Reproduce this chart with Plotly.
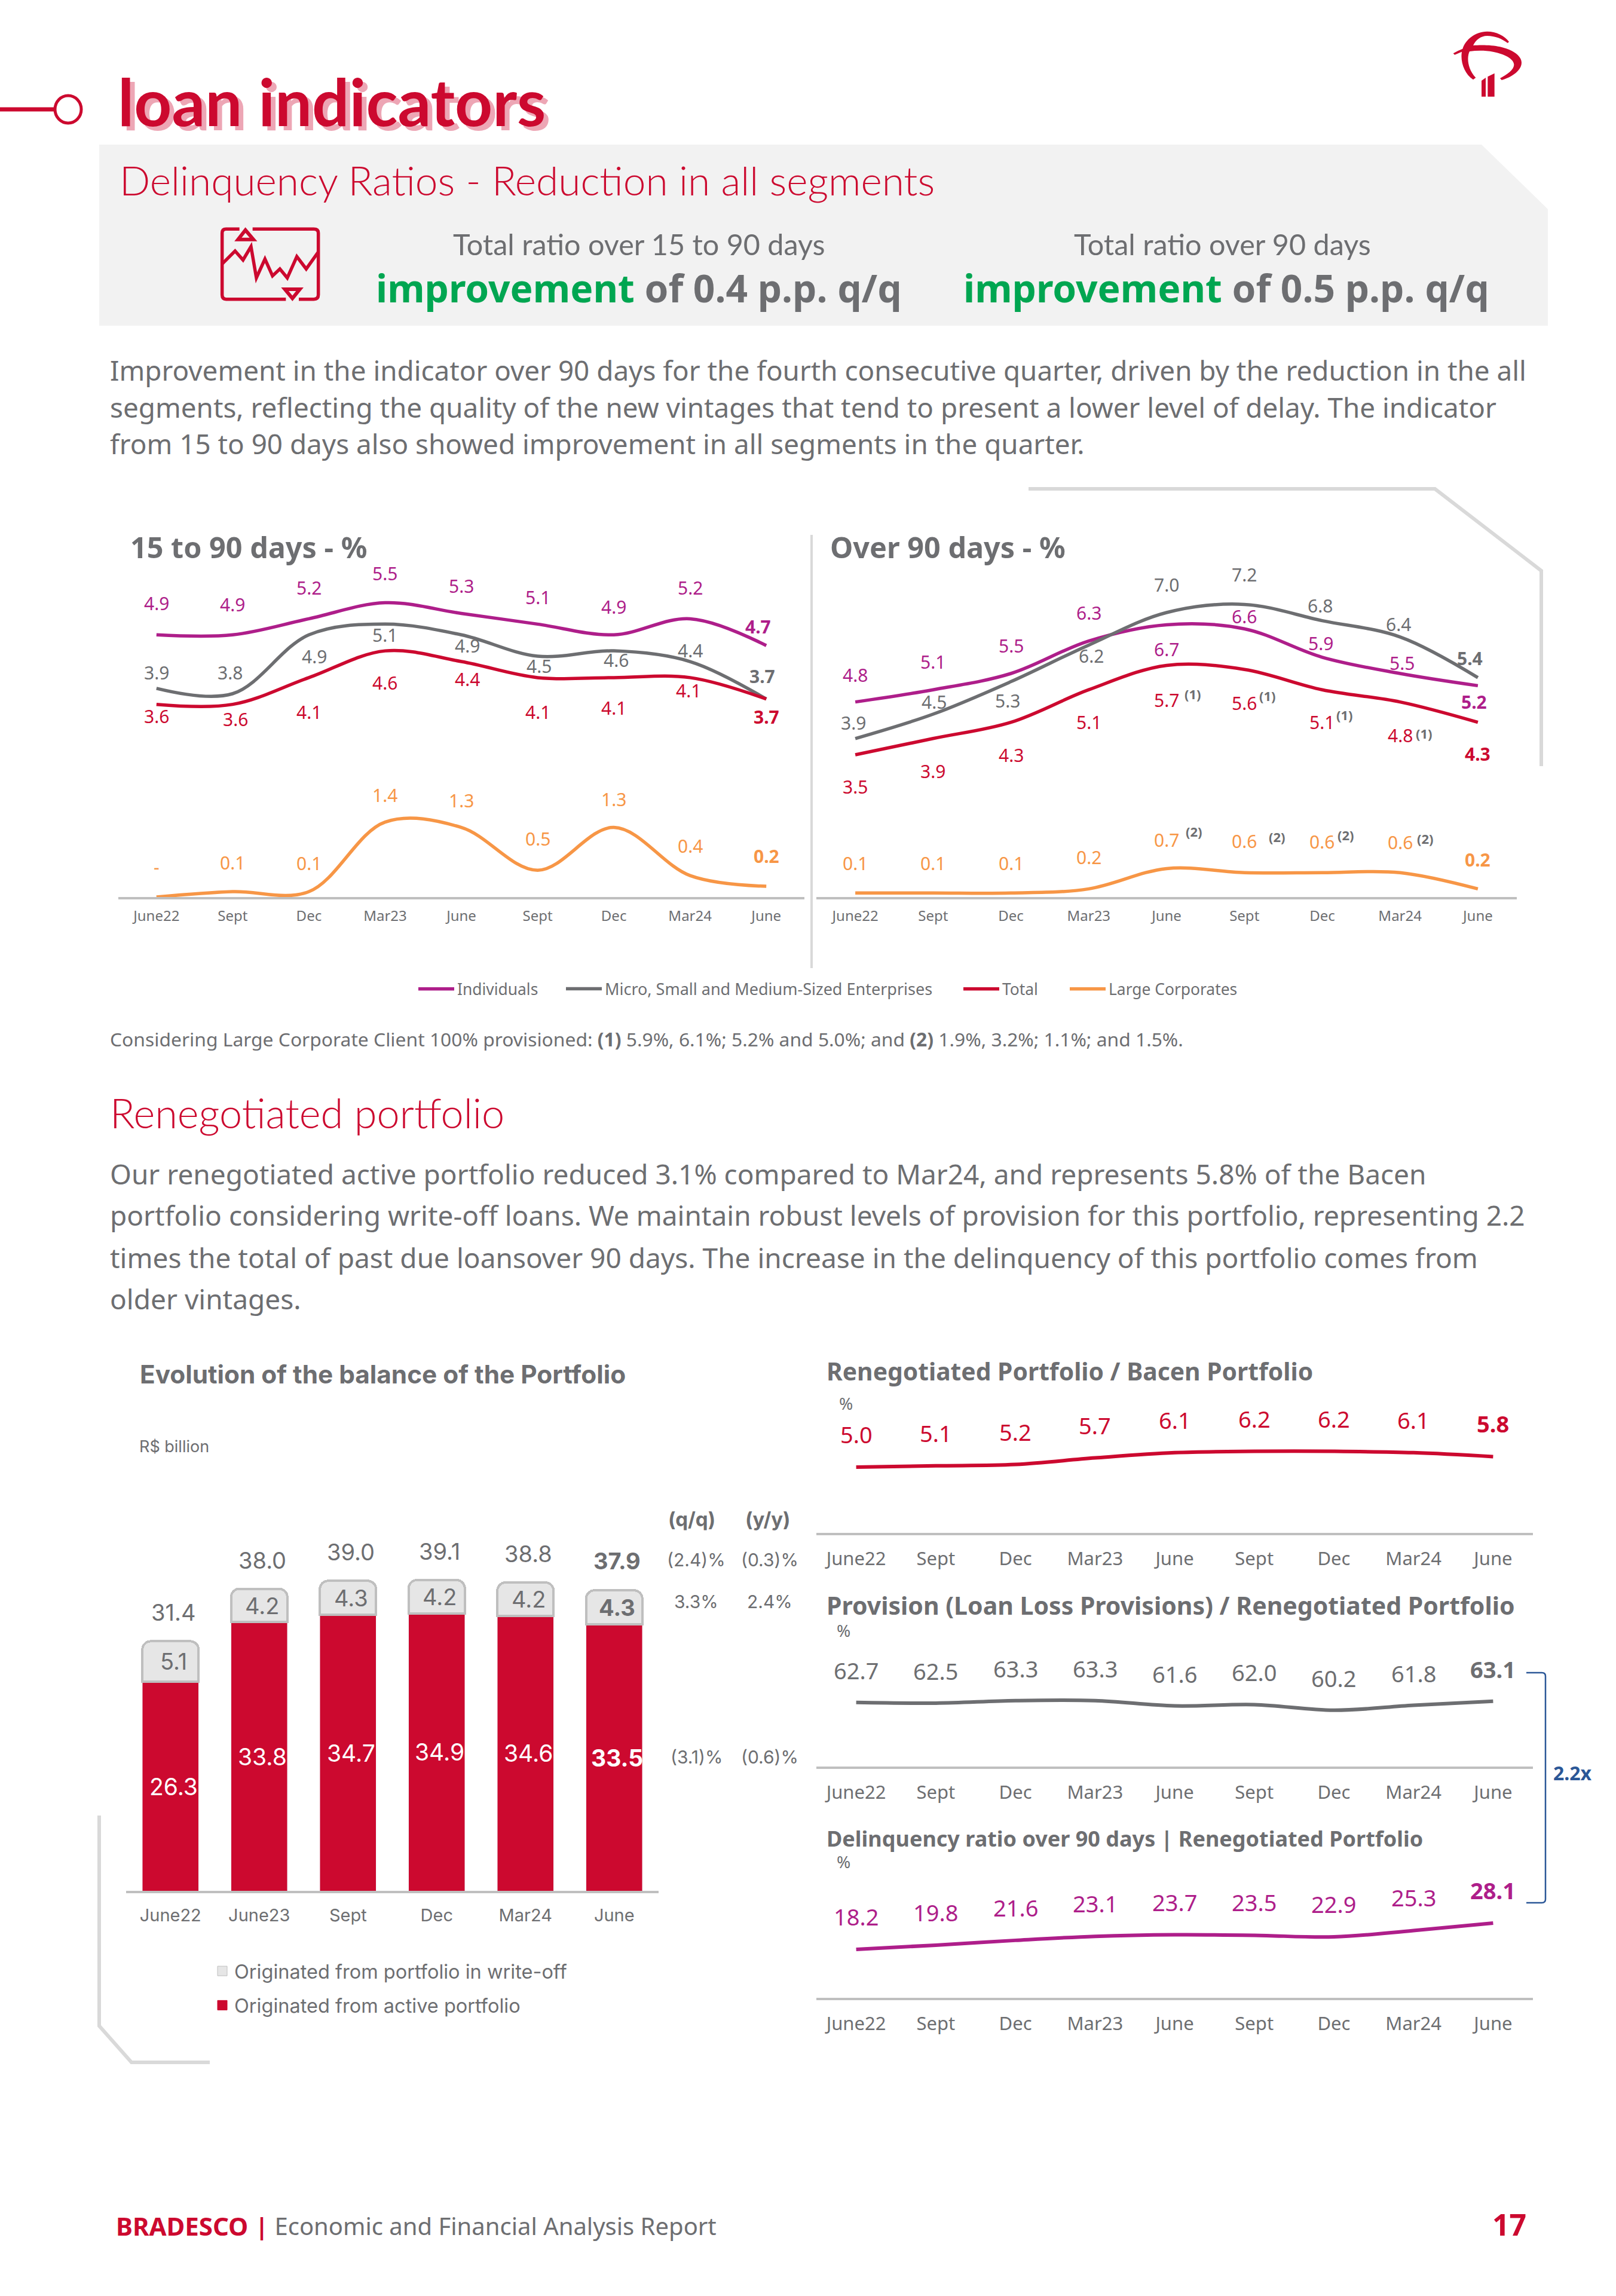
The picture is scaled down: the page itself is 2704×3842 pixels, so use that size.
import re
import plotly.graph_objects as go

W, H = 2704, 3842
RED = "#CC092F"; MAG = "#AE1E8A"; GREY = "#6D6E71"; ORANGE = "#F79646"; GREEN = "#00A651"
LINEGREY = "#BFBFBF"; DECOR = "#D9D9D9"; BLUE = "#2B5797"
FONT = "Noto Sans"; WIDE = "Inter"

# ---------- data ----------
quarters = ["June22", "Sept", "Dec", "Mar23", "June", "Sept", "Dec", "Mar24", "June"]
d15_individuals = [4.9, 4.9, 5.2, 5.5, 5.3, 5.1, 4.9, 5.2, 4.7]
d15_micro = [3.9, 3.8, 4.9, 5.1, 4.9, 4.5, 4.6, 4.4, 3.7]
d15_total = [3.6, 3.6, 4.1, 4.6, 4.4, 4.1, 4.1, 4.1, 3.7]
d15_large = [0.0, 0.1, 0.1, 1.4, 1.3, 0.5, 1.3, 0.4, 0.2]
d90_individuals = [4.8, 5.1, 5.5, 6.3, 6.7, 6.6, 5.9, 5.5, 5.2]
d90_micro = [3.9, 4.5, 5.3, 6.2, 7.0, 7.2, 6.8, 6.4, 5.4]
d90_total = [3.5, 3.9, 4.3, 5.1, 5.7, 5.6, 5.1, 4.8, 4.3]
d90_large = [0.1, 0.1, 0.1, 0.2, 0.7, 0.6, 0.6, 0.6, 0.2]
bar_periods = ["June22", "June23", "Sept", "Dec", "Mar24", "June"]
bar_active = [26.3, 33.8, 34.7, 34.9, 34.6, 33.5]
bar_writeoff = [5.1, 4.2, 4.3, 4.2, 4.2, 4.3]
bar_totals = [31.4, 38.0, 39.0, 39.1, 38.8, 37.9]
reneg_bacen = [5.0, 5.1, 5.2, 5.7, 6.1, 6.2, 6.2, 6.1, 5.8]
reneg_provision = [62.7, 62.5, 63.3, 63.3, 61.6, 62.0, 60.2, 61.8, 63.1]
reneg_delinq = [18.2, 19.8, 21.6, 23.1, 23.7, 23.5, 22.9, 25.3, 28.1]
growth_rows = [("(2.4)%", "(0.3)%", 2610), ("3.3%", "2.4%", 2680), ("(3.1)%", "(0.6)%", 2940)]

# ---------- label offsets (px: right, up) ----------
off15_ind = [(0,53),(0,51),(0,52),(0,49),(0,46),(0,45),(0,47),(0,52),(-14,32)]
off15_mic = [(0,26),(-4,35),(9,-36),(0,-18),(10,-18),(2,-16),(4,-15),(0,19),(-7,38)]
off15_tot = [(0,-20),(5,-25),(0,-58),(0,-53),(10,-29),(0,-58),(0,-51),(-3,-22),(0,-30)]
off15_lrg = [(0,50),(0,49),(0,48),(0,45),(0,45),(0,53),(0,47),(0,50),(0,51)]
off90_ind = [(0,45),(0,47),(0,47),(0,47),(0,-41),(0,21),(-2,23),(3,18),(-6,-27)]
off90_mic = [(-3,26),(2,21),(-6,-32),(4,-18),(0,47),(0,50),(-3,25),(-3,21),(-13,32)]
off90_tot = [(0,-53),(0,-55),(0,-55),(0,-54),(0,-58),(0,-56),(0,-54),(0,-56),(0,-53)]
off90_lrg = [(0,50),(0,50),(0,50),(0,53),(0,48),(0,53),(0,52),(0,51),(0,49)]

fig = go.Figure()
annots, shapes = [], []
idx = list(range(len(quarters)))


def fx(px): return px / W
def fy(py): return 1 - py / H


def page_text(x, y, text, size, color=GREY, anchor="left", family=FONT, weight=None, vanchor="middle", shadow=None):
    f = dict(size=size, color=color, family=family)
    if weight:
        f["weight"] = weight
    if shadow:
        f["shadow"] = shadow
    annots.append(dict(xref="paper", yref="paper", x=fx(x), y=fy(y), text=text, showarrow=False,
                       xanchor=anchor, yanchor=vanchor, font=f, align="left"))


def path(s, ox=0, oy=0, k=1.0):
    out, i = [], 0
    for tok in re.findall(r"[MLCQZ]|-?\d+\.?\d*", s):
        if tok in "MLCQZ":
            out.append(tok)
        else:
            if i % 2 == 0:
                out.append(f"{fx(ox + float(tok) * k):.6f}")
            else:
                out.append(f"{fy(oy + float(tok) * k):.6f}")
            i += 1
    res = ""
    j = 0
    while j < len(out):
        t = out[j]
        if t in "MLCQZ":
            res += t
            j += 1
        else:
            res += out[j] + "," + out[j + 1] + " "
            j += 2
    return res


def shape(s, fill=None, line=None, width=0, layer="above", **kw):
    d = dict(type="path", xref="paper", yref="paper", path=path(s, **kw), layer=layer,
             line=dict(color=line or "rgba(0,0,0,0)", width=width))
    if fill:
        d["fillcolor"] = fill
    shapes.append(d)


def axes(n, x0, x1, y0, y1, xr, yr, tickvals, ticktext, size, standoff, family=FONT, lw=4):
    sfx = "" if n == 1 else str(n)
    fig.layout["xaxis" + sfx] = dict(domain=[fx(x0), fx(x1)], range=xr, anchor="y" + sfx, tickmode="array",
                                     tickvals=tickvals, ticktext=ticktext, showgrid=False, zeroline=False,
                                     showline=True, linecolor=LINEGREY, linewidth=lw, ticks="",
                                     tickfont=dict(size=size, color=GREY, family=family),
                                     ticklabelstandoff=standoff, fixedrange=True)
    fig.layout["yaxis" + sfx] = dict(domain=[fy(y1), fy(y0)], range=yr, anchor="x" + sfx, visible=False,
                                     fixedrange=True)
    return ("x" + sfx, "y" + sfx)


def line(x, y, xa, ya, color, name=None, legend="legend", width=5.5):
    fig.add_trace(go.Scatter(x=x, y=y, mode="lines", xaxis=xa, yaxis=ya, name=name, showlegend=bool(name),
                             line=dict(color=color, width=width, shape="spline", smoothing=1.0),
                             cliponaxis=False, hoverinfo="skip", legend=legend))


def labels(values, xa, ya, color, size, offs=None, up=0, xs=None, texts=None, last_bold=True, family=FONT):
    xs = xs if xs is not None else list(range(len(values)))
    for i, v in enumerate(values):
        dx, dy = offs[i] if offs else (0, up)
        t = texts[i] if texts else f"{v:.1f}"
        if last_bold and i == len(values) - 1:
            t = f"<b>{t}</b>"
        annots.append(dict(xref=xa, yref=ya, x=xs[i], y=v, text=t, showarrow=False, xshift=dx, yshift=dy,
                           xanchor="center", yanchor="middle", font=dict(size=size, color=color, family=family)))


# ---------- 15 to 90 days ----------
xa, ya = axes(1, 198, 1346, 919, 1501, [-0.5, 8.5], [0, 6.5], idx, quarters, 24, 7)
line(idx, d15_individuals, xa, ya, MAG, "Individuals", "legend")
line(idx, d15_micro, xa, ya, GREY, "Micro, Small and Medium-Sized Enterprises", "legend3")
line(idx, d15_total, xa, ya, RED, "Total", "legend4")
line(idx, d15_large, xa, ya, ORANGE, "Large Corporates", "legend5")
labels(d15_individuals, xa, ya, MAG, 30, off15_ind)
labels(d15_micro, xa, ya, GREY, 30, off15_mic)
labels(d15_total, xa, ya, RED, 30, off15_tot)
labels(d15_large, xa, ya, ORANGE, 30, off15_lrg, texts=[f"{v:.1f}" if v else "-" for v in d15_large])

# ---------- over 90 days ----------
xa, ya = axes(2, 1366, 2538, 957, 1501, [-0.5, 8.5], [0, 8], idx, quarters, 24, 7)
line(idx, d90_individuals, xa, ya, MAG)
line(idx, d90_micro, xa, ya, GREY)
line(idx, d90_total, xa, ya, RED)
line(idx, d90_large, xa, ya, ORANGE)
labels(d90_individuals, xa, ya, MAG, 30, off90_ind)
labels(d90_micro, xa, ya, GREY, 30, off90_mic)
labels(d90_total, xa, ya, RED, 30, off90_tot)
labels(d90_large, xa, ya, ORANGE, 30, off90_lrg)
for x, y in [(1996, 1161), (2121, 1164), (2250, 1196), (2383, 1227)]:
    page_text(x, y, "<b>(1)</b>", 22, GREY, "center")
for x, y in [(1998, 1391), (2137, 1400), (2252, 1397), (2385, 1403)]:
    page_text(x, y, "<b>(2)</b>", 22, GREY, "center")

# ---------- balance bars ----------
bx = list(range(len(bar_periods)))
xa, ya = axes(3, 211, 1102, 2366, 3164, [-0.5, 5.5], [0, 60], bx, bar_periods, 29, 12, family=WIDE)
fig.add_trace(go.Bar(x=bx, y=bar_active, xaxis=xa, yaxis=ya, marker=dict(color=RED), width=0.633,
                     showlegend=False, hoverinfo="skip"))
fig.add_trace(go.Bar(x=bx, y=bar_writeoff, xaxis=xa, yaxis=ya, width=0.633,
                     marker=dict(color="#E6E6E6", line=dict(color=LINEGREY, width=4)),
                     showlegend=False, hoverinfo="skip"))
# legend keys for the bars, sized like the reference's square swatches
for nm, col, edge, grp, rank in [("Originated from portfolio in write-off", "#E6E6E6", LINEGREY, "b", 1),
                                 ("Originated from active portfolio", RED, RED, "a", 2)]:
    fig.add_trace(go.Scatter(x=[None], y=[None], xaxis=xa, yaxis=ya, mode="markers", name=nm, legend="legend2",
                             legendgroup=grp, legendrank=rank, hoverinfo="skip",
                             marker=dict(symbol="square", size=20, color=col, line=dict(color=edge, width=1))))
labels(bar_totals, xa, ya, GREY, 38, offs=[(5, 48)] * 6, family=WIDE)
mids_w = [a + w / 2 for a, w in zip(bar_active, bar_writeoff)]
for i, v in enumerate(bar_writeoff):
    t = f"{v:.1f}"
    t = f"<b>{t}</b>" if i == 5 else t
    annots.append(dict(xref=xa, yref=ya, x=i, y=mids_w[i], text=t, showarrow=False, xshift=5,
                       font=dict(size=38, color=GREY, family=WIDE)))
for i, v in enumerate(bar_active):
    t = f"{v:.1f}"
    t = f"<b>{t}</b>" if i == 5 else t
    annots.append(dict(xref=xa, yref=ya, x=i, y=v / 2, text=t, showarrow=False, xshift=5,
                       font=dict(size=39, color="white", family=WIDE)))
page_text(1157, 2542, "<b>(q/q)</b>", 33, GREY, "center", WIDE)
page_text(1285, 2542, "<b>(y/y)</b>", 33, GREY, "center", WIDE)
for q, y_, py in growth_rows:
    page_text(1165, py, q, 30, GREY, "center", WIDE)
    page_text(1288, py, y_, 30, GREY, "center", WIDE)

# ---------- renegotiated small panels ----------
xa, ya = axes(4, 1366, 2565, 2389, 2565, [-0.5, 8.5], [0, 8], idx, quarters, 31, 13, lw=4)
line(idx, reneg_bacen, xa, ya, RED, width=6)
labels(reneg_bacen, xa, ya, RED, 38, up=55)
xa, ya = axes(5, 1366, 2565, 2780, 2956, [-0.5, 8.5], [42, 76], idx, quarters, 31, 13, lw=4)
line(idx, reneg_provision, xa, ya, GREY, width=6)
labels(reneg_provision, xa, ya, GREY, 38, up=54)
xa, ya = axes(6, 1366, 2565, 3165, 3343, [-0.5, 8.5], [0, 40], idx, quarters, 31, 13, lw=4)
line(idx, reneg_delinq, xa, ya, MAG, width=6)
labels(reneg_delinq, xa, ya, MAG, 38, up=55)

# ---------- page furniture ----------
shape("M166,242 L2479,242 L2590,350 L2590,545 L166,545 Z", fill="#F2F2F2", layer="below")
shape("M1721,818 L2401,818 L2579,955 L2579,1282", line=DECOR, width=6, layer="below")
shape("M166,3038 L166,3390 L220,3451 L351,3451", line=DECOR, width=6, layer="below")
shape("M1358,895 L1358,1620", line=DECOR, width=4, layer="below")
shape("M0,183 L92,183", line=RED, width=7)
shapes.append(dict(type="circle", xref="paper", yref="paper", x0=fx(92), x1=fx(136), y0=fy(206), y1=fy(160),
                   line=dict(color=RED, width=5)))
shape("M2554,2799 L2580,2799 Q2586,2799 2586,2805 L2586,3178 Q2586,3184 2580,3184 L2554,3184", line=BLUE, width=2.5)
# logo
LOGO = dict(ox=2410, oy=30, k=1 / 3)
shape("M65,178 Q85,165 112,155 C125,110 175,68 235,68 C280,68 325,90 345,120 L338,126 C310,105 275,90 235,90 "
      "C205,90 178,110 165,138 C200,135 260,135 300,145 C365,160 408,190 408,225 C408,265 355,300 308,312 "
      "L300,303 C335,285 370,260 370,235 C370,205 320,180 265,170 C225,163 185,163 147,168 C133,195 135,255 178,300 "
      "L165,310 C120,280 100,220 108,170 C95,175 85,180 72,185 Z", fill=RED, **LOGO)
shape("M207,315 L228,300 L228,395 L207,395 Z", fill=RED, **LOGO)
shape("M238,295 L272,278 L272,395 L238,395 Z", fill=RED, **LOGO)
# icon
ICON = dict(ox=350, oy=360, k=1 / 3)
shape("M152,70 L85,70 Q65,70 65,90 L65,400 Q65,422 85,422 L385,422", line=RED, width=5.5, **ICON)
shape("M450,422 L525,422 Q548,422 548,400 L548,90 Q548,70 525,70 L218,70", line=RED, width=5.5, **ICON)
shape("M182,75 L222,122 L145,122 Z", line=RED, width=6, **ICON)
shape("M380,372 L455,372 L418,418 Z", line=RED, width=6, **ICON)
shape("M65,245 L130,180 L170,225 L210,158 L237,315 L280,220 L318,305 L355,270 L392,315 L440,208 L487,270 L548,185",
      line=RED, width=5.5, **ICON)

page_text(195, 168, "<b>loan indicators</b>", 110, RED, family="Lato", shadow="8px 7px 0px #EDA6B5")
page_text(198, 301, "Delinquency Ratios - Reduction in all segments", 67.6, RED, family="Lato", weight=300)
page_text(1069, 408, "Total ratio over 15 to 90 days", 48.5, GREY, "center", family="Lato")
page_text(2045, 408, "Total ratio over 90 days", 48.5, GREY, "center", family="Lato")
page_text(627, 481, f"<b><span style='color:{GREEN}'>improvement</span> of 0.4 p.p. q/q</b>", 64, GREY)
page_text(1610, 481, f"<b><span style='color:{GREEN}'>improvement</span> of 0.5 p.p. q/q</b>", 64, GREY)
for y, t in zip([619, 681, 742], [
    "Improvement in the indicator over 90 days for the fourth consecutive quarter, driven by the reduction in the all",
    "segments, reflecting the quality of the new vintages that tend to present a lower level of delay. The indicator",
    "from 15 to 90 days also showed improvement in all segments in the quarter.",
]):
    page_text(182, y, t, 45.8)
page_text(216, 915, "<b>15 to 90 days - %</b>", 48.5)
page_text(1387, 915, "<b>Over 90 days - %</b>", 48.5)
page_text(182, 1738, "Considering Large Corporate Client 100% provisioned: <b>(1)</b> 5.9%, 6.1%; 5.2% and 5.0%; "
                     "and <b>(2)</b> 1.9%, 3.2%; 1.1%; and 1.5%.", 31.8)
page_text(182, 1861, "Renegotiated portfolio", 68.5, RED, family="Lato", weight=300)
for y, t in zip([1964, 2033, 2104, 2173], [
    "Our renegotiated active portfolio reduced 3.1% compared to Mar24, and represents 5.8% of the Bacen",
    "portfolio considering write-off loans. We maintain robust levels of provision for this portfolio, representing 2.2",
    "times the total of past due loansover 90 days. The increase in the delinquency of this portfolio comes from",
    "older vintages.",
]):
    page_text(182, y, t, 46)
page_text(232, 2299, "<b>Evolution of the balance of the Portfolio</b>", 42.3, family=WIDE)
page_text(231, 2420, "R$ billion", 27, family=WIDE)
page_text(1381, 2294, "<b>Renegotiated Portfolio / Bacen Portfolio</b>", 40.8)
page_text(1402, 2348, "%", 28)
page_text(1381, 2686, "<b>Provision (Loan Loss Provisions) / Renegotiated Portfolio</b>", 41)
page_text(1398, 2728, "%", 28)
page_text(1381, 3076, "<b>Delinquency ratio over 90 days | Renegotiated Portfolio</b>", 36)
page_text(1398, 3115, "%", 28)
page_text(2597, 2966, "<b>2.2x</b>", 32, BLUE)
page_text(192, 3724, f"<b><span style='color:{RED}'>BRADESCO</span></b>", 42)
page_text(425, 3724, f"<span style='color:{RED}'><b>|</b></span> Economic and Financial Analysis Report", 40)
page_text(2525, 3722, "<b>17</b>", 50, RED, "center")

legend_common = dict(orientation="h", yanchor="middle", itemwidth=60, bgcolor="rgba(0,0,0,0)")
legend_font = dict(size=26.4, color=GREY, family=FONT)
fig.update_layout(
    width=W, height=H, margin=dict(l=0, r=0, t=0, b=0), paper_bgcolor="white", plot_bgcolor="white",
    barmode="stack", barcornerradius=14, shapes=shapes, annotations=annots, hovermode=False,
    font=dict(family=FONT, color=GREY),
    legend=dict(x=fx(695), y=fy(1655), font=legend_font, **legend_common),
    legend3=dict(x=fx(942), y=fy(1655), font=dict(size=27, color=GREY, family=FONT), **legend_common),
    legend4=dict(x=fx(1607), y=fy(1655), font=legend_font, **legend_common),
    legend5=dict(x=fx(1785), y=fy(1655), font=legend_font, **legend_common),
    legend2=dict(x=fx(352), y=fy(3327), xanchor="left", yanchor="middle", tracegroupgap=12,
                 font=dict(size=32.5, color=GREY, family=WIDE), itemwidth=30, bgcolor="rgba(0,0,0,0)"),
)
fig.write_html("out.html", post_script="document.body.style.margin='0';", config=dict(displayModeBar=False))
